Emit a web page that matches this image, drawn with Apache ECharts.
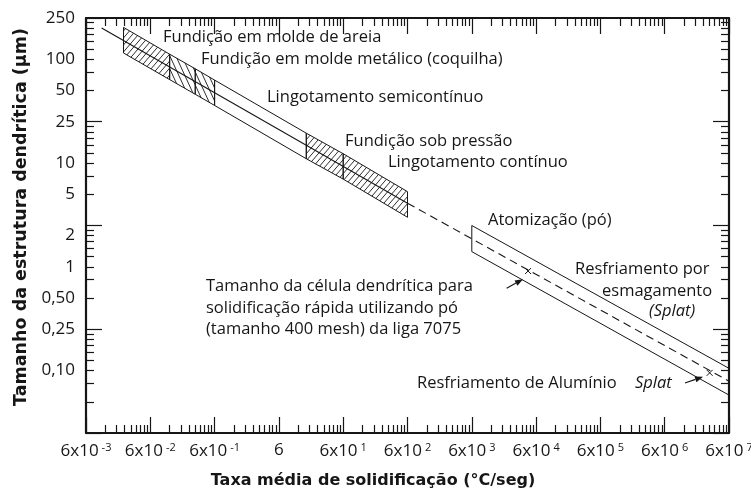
<!DOCTYPE html>
<html><head><meta charset="utf-8">
<script src="https://cdn.jsdelivr.net/npm/echarts@6/dist/echarts.min.js"></script>
<style>html,body{margin:0;padding:0;background:#fff}#c{width:751px;height:492px}</style>
</head><body><div id="c"></div>
<script>
// ---- tick values / labels ----
const xTickValues = [0.006, 0.06, 0.6, 6, 60, 600, 6000, 60000, 600000, 6000000, 60000000];
const xTickExponents = ['-3', '-2', '-1', '', '1', '2', '3', '4', '5', '6', '7'];
const yTickValues = [250, 100, 50, 25, 10, 5, 2, 1, 0.5, 0.25, 0.1];
const yTickLabels = ['250', '100', '50', '25', '10', '5', '2', '1', '0,50', '0,25', '0,10'];
const yMajorTickValues = [0.025, 0.25, 2.5, 25, 250];

// ---- main correlation line (µm vs °C/s) ----
const solidLineX = [0.0105, 600];
const solidLineY = [200, 4.1];
const dashedLineX = [600, 60000000];
const dashedLineY = [4.1, 0.079];

// ---- conventional processes band ----
const bandX = [0.023, 0.12, 0.3, 0.6, 16, 60, 600];
const bandUpper = [203, 112, 81, 63, 19.4, 12.3, 5.3];
const bandLower = [115, 63.7, 46, 35.9, 11, 7.0, 3.0];
const bandHatch = [1, 2, 2, 0, 1, 1];

// ---- rapid solidification band (atomization / splat) ----
const rapidX = [6000, 60000000];
const rapidUpper = [2.5, 0.105];
const rapidLower = [1.4, 0.058];

// ---- 7075 powder cell size marks ----
const markX = [45000, 30000000];
const markY = [0.91, 0.095];

// ---- arrows ----
const arrowFromX = [20900, 12400000];
const arrowFromY = [0.62, 0.076];
const arrowToX = [37500, 23700000];
const arrowToY = [0.76, 0.087];

// minor ticks (k = 2..9 within each labelled decade)
const xMinor = [];
for (let i = 0; i < xTickValues.length - 1; i++) for (let k = 2; k <= 9; k++) xMinor.push(xTickValues[i] * k);
const yMinor = [];
for (let i = 0; i < yMajorTickValues.length - 1; i++) for (let k = 2; k <= 9; k++) yMinor.push(yMajorTickValues[i] * k);

const INK = '#161616';
const FONT = 'Open Sans';
const TITLE_FONT = 'DejaVu Sans';

function nearestIndex(arr, v) {
  let best = 0, bd = Infinity;
  arr.forEach((a, i) => { const d = Math.abs(Math.log10(a) - Math.log10(v)); if (d < bd) { bd = d; best = i; } });
  return best;
}

function makeHatch(w, h, dir) {
  const c = document.createElement('canvas');
  c.width = w; c.height = h;
  const ctx = c.getContext('2d');
  ctx.strokeStyle = INK; ctx.lineWidth = 0.9;
  ctx.beginPath();
  for (let k = -1; k <= 1; k++) {
    if (dir > 0) { ctx.moveTo(k * w, h); ctx.lineTo(k * w + w, 0); }
    else { ctx.moveTo(k * w, 0); ctx.lineTo(k * w + w, h); }
  }
  ctx.stroke();
  return { image: c, repeat: 'repeat' };
}
const patterns = [null, makeHatch(6, 7, 1), makeHatch(6, 13, -1)];

const lineStyleAxis = { color: INK, width: 2.2 };
const tickStyle = { color: INK, width: 1.2 };

function xAxisDef(pos, ticks, len, showLine, showLabel) {
  return {
    type: 'log', logBase: 10, min: 0.006, max: 60000000, position: pos, gridIndex: 0,
    axisLine: { show: showLine, onZero: false, lineStyle: lineStyleAxis },
    axisTick: { show: true, inside: true, length: len, customValues: ticks, lineStyle: tickStyle },
    axisLabel: showLabel ? {
      show: true, customValues: xTickValues, margin: 9,
      formatter: (v) => {
        const i = nearestIndex(xTickValues, v);
        return xTickExponents[i] === '' ? '{b|6}' : '{b|6x10}{s|' + xTickExponents[i] + '}';
      },
      rich: {
        b: { fontSize: 17, fontFamily: FONT, color: INK },
        s: { fontSize: 11, fontFamily: FONT, color: INK, padding: [0, 0, 8, 3] }
      }
    } : { show: false },
    splitLine: { show: false }, minorTick: { show: false }
  };
}
function yAxisDef(pos, ticks, len, showLine, showLabel) {
  return {
    type: 'log', logBase: 10, min: 0.025, max: 250, position: pos, gridIndex: 0,
    axisLine: { show: showLine, onZero: false, lineStyle: lineStyleAxis },
    axisTick: { show: true, inside: true, length: len, customValues: ticks, lineStyle: tickStyle },
    axisLabel: showLabel ? {
      show: true, customValues: yTickValues, margin: 11,
      formatter: (v) => yTickLabels[nearestIndex(yTickValues, v)],
      fontSize: 17, fontFamily: FONT, color: INK
    } : { show: false },
    splitLine: { show: false }, minorTick: { show: false }
  };
}

const annotations = [
  { t: 'Fundição em molde de areia', x: 163, y: 37 },
  { t: 'Fundição em molde metálico (coquilha)', x: 201, y: 59 },
  { t: 'Lingotamento semicontínuo', x: 267, y: 97 },
  { t: 'Fundição sob pressão', x: 345, y: 141 },
  { t: 'Lingotamento contínuo', x: 388, y: 162 },
  { t: 'Atomização (pó)', x: 488, y: 220 },
  { t: 'Resfriamento por', x: 575, y: 269 },
  { t: 'esmagamento', x: 602, y: 291 },
  { t: '(Splat)', x: 649, y: 311, it: true },
  { t: 'Tamanho da célula dendrítica para', x: 206, y: 286 },
  { t: 'solidificação rápida utilizando pó', x: 206, y: 308 },
  { t: '(tamanho 400 mesh) da liga 7075', x: 206, y: 329 },
  { t: 'Resfriamento de Alumínio', x: 417, y: 383 },
  { t: 'Splat', x: 635, y: 383, it: true }
];

const graphics = annotations.map(a => ({
  type: 'text', x: a.x, y: a.y, z: 100, silent: true,
  style: { text: a.t, fill: INK, fontSize: 16.5, fontFamily: FONT, fontStyle: a.it ? 'italic' : 'normal',
           align: 'left', verticalAlign: 'middle' }
}));
graphics.push({
  type: 'text', x: 373, y: 481, z: 100, silent: true,
  style: { text: 'Taxa média de solidificação (°C/seg)', fill: INK, fontSize: 16, fontWeight: 'bold',
           fontFamily: TITLE_FONT, align: 'center', verticalAlign: 'middle' }
});
graphics.push({
  type: 'text', x: 21, y: 217, rotation: Math.PI / 2, z: 100, silent: true,
  style: { text: 'Tamanho da estrutura dendrítica (µm)', fill: INK, fontSize: 17.5, fontWeight: 'bold',
           fontFamily: TITLE_FONT, align: 'center', verticalAlign: 'middle' }
});

const bandData = bandX.slice(0, -1).map((x, i) =>
  [x, bandX[i + 1], bandUpper[i], bandUpper[i + 1], bandLower[i], bandLower[i + 1], bandHatch[i]]);
const rapidData = [[rapidX[0], rapidX[1], rapidUpper[0], rapidUpper[1], rapidLower[0], rapidLower[1], 0]];

function bandRender(params, api) {
  const p1 = api.coord([api.value(0), api.value(2)]);
  const p2 = api.coord([api.value(1), api.value(3)]);
  const p3 = api.coord([api.value(1), api.value(5)]);
  const p4 = api.coord([api.value(0), api.value(4)]);
  const h = api.value(6);
  return {
    type: 'polygon', shape: { points: [p1, p2, p3, p4] },
    style: { fill: patterns[h] || 'none', stroke: INK, lineWidth: 1 }
  };
}

const option = {
  animation: false,
  backgroundColor: '#fff',
  grid: { left: 86, top: 18, width: 643, height: 415, containLabel: false, outerBoundsMode: 'none' },
  xAxis: [
    xAxisDef('bottom', xTickValues, 16, true, true),
    xAxisDef('bottom', xMinor, 8, false, false),
    xAxisDef('top', xTickValues, 16, true, false),
    xAxisDef('top', xMinor, 8, false, false)
  ],
  yAxis: [
    yAxisDef('left', yMajorTickValues, 16, true, true),
    yAxisDef('left', yMinor, 8, false, false),
    yAxisDef('right', yMajorTickValues, 16, true, false),
    yAxisDef('right', yMinor, 8, false, false)
  ],
  graphic: graphics,
  series: [
    { type: 'custom', name: 'band', renderItem: bandRender, data: bandData, encode: { x: [0, 1], y: [2, 3, 4, 5] }, silent: true, clip: true },
    { type: 'custom', name: 'rapid', renderItem: bandRender, data: rapidData, encode: { x: [0, 1], y: [2, 3, 4, 5] }, silent: true, clip: true },
    { type: 'line', name: 'solid', data: solidLineX.map((x, i) => [x, solidLineY[i]]), showSymbol: false, symbol: 'none',
      lineStyle: { color: INK, width: 1.1 }, silent: true, z: 3 },
    { type: 'line', name: 'dashed', data: dashedLineX.map((x, i) => [x, dashedLineY[i]]), showSymbol: false, symbol: 'none',
      lineStyle: { color: INK, width: 1.1, type: [8, 5] }, silent: true, z: 3 },
    { type: 'custom', name: 'marks', data: markX.map((x, i) => [x, markY[i]]), silent: true, z: 4,
      renderItem: (params, api) => {
        const p = api.coord([api.value(0), api.value(1)]);
        const s = 3;
        return { type: 'group', children: [
          { type: 'line', shape: { x1: p[0] - s, y1: p[1] - s, x2: p[0] + s, y2: p[1] + s }, style: { stroke: INK, lineWidth: 1 } },
          { type: 'line', shape: { x1: p[0] - s, y1: p[1] + s, x2: p[0] + s, y2: p[1] - s }, style: { stroke: INK, lineWidth: 1 } }
        ] };
      } },
    { type: 'custom', name: 'arrows', data: arrowFromX.map((x, i) => [x, arrowFromY[i], arrowToX[i], arrowToY[i]]), silent: true, z: 4,
      encode: { x: [0, 2], y: [1, 3] },
      renderItem: (params, api) => {
        const a = api.coord([api.value(0), api.value(1)]);
        const b = api.coord([api.value(2), api.value(3)]);
        const ang = Math.atan2(b[1] - a[1], b[0] - a[0]);
        const L = 8, W = 3;
        const bx = b[0] - L * Math.cos(ang), by = b[1] - L * Math.sin(ang);
        const nx = -Math.sin(ang) * W, ny = Math.cos(ang) * W;
        return { type: 'group', children: [
          { type: 'line', shape: { x1: a[0], y1: a[1], x2: bx, y2: by }, style: { stroke: INK, lineWidth: 1.1 } },
          { type: 'polygon', shape: { points: [[b[0], b[1]], [bx + nx, by + ny], [bx - nx, by - ny]] }, style: { fill: INK } }
        ] };
      } }
  ]
};

const chart = echarts.init(document.getElementById('c'), null, { renderer: 'canvas' });
chart.setOption(option);
</script>
</body></html>
